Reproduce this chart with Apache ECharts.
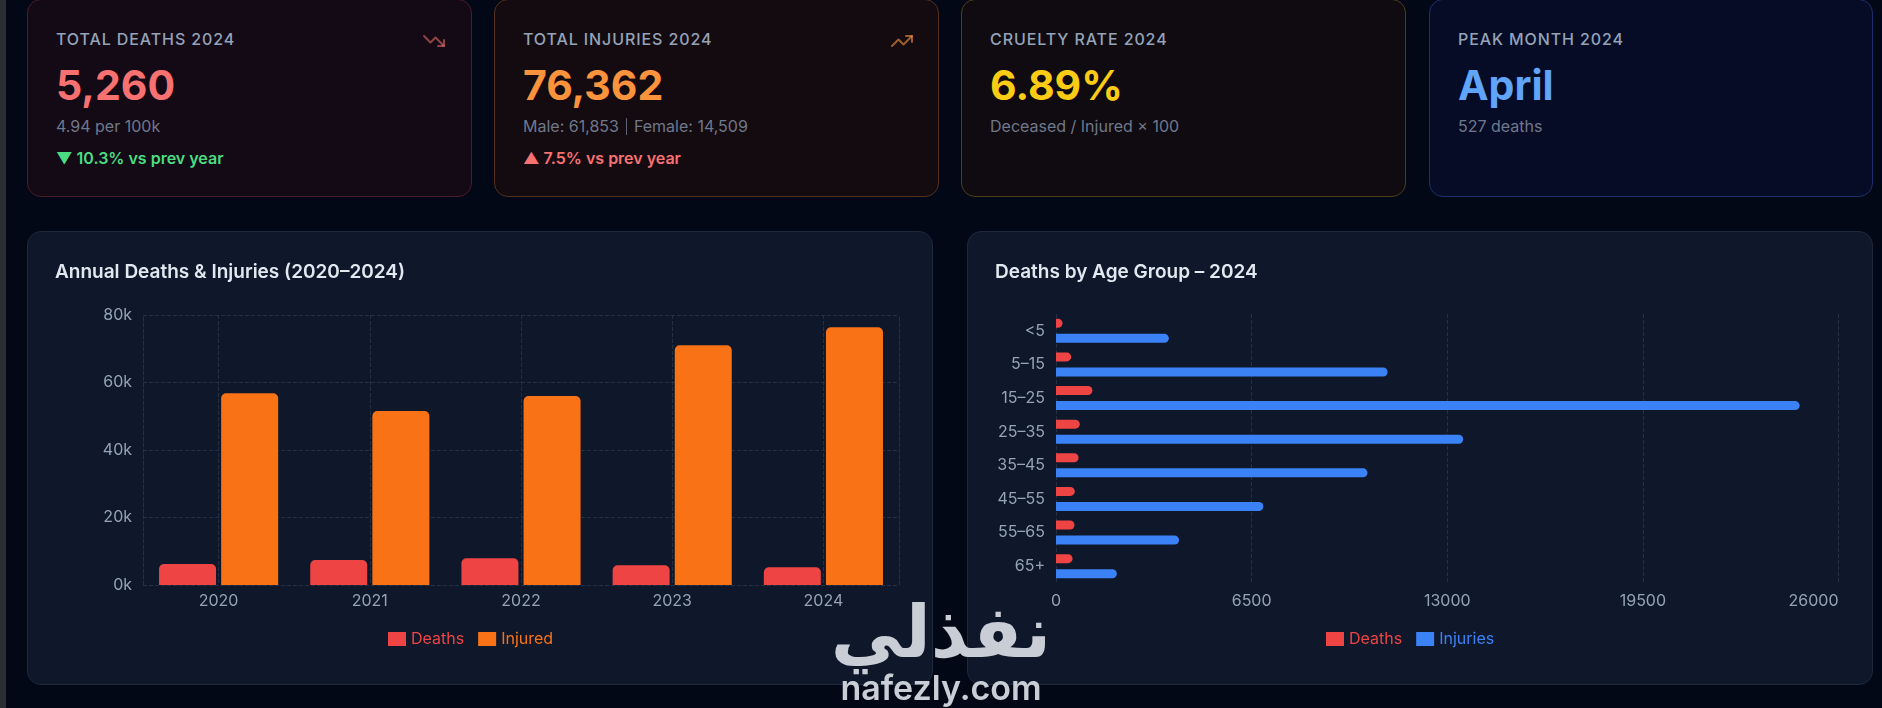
<!DOCTYPE html>
<html>
<head>
<meta charset="utf-8">
<script src="https://cdn.jsdelivr.net/npm/echarts@6/dist/echarts.min.js"></script>
<style>
html,body{margin:0;padding:0;width:1882px;height:708px;overflow:hidden;background:#030816;font-family:Inter,"Noto Sans",sans-serif;}
.strip{position:absolute;left:0;top:0;width:6px;height:708px;background:#2c2e33;}
.card{position:absolute;top:-1px;height:198px;border-radius:14px;box-sizing:border-box;border:1px solid;}
.lbl{position:absolute;left:28px;top:30px;font-size:16px;line-height:19px;letter-spacing:0.9px;color:#94a3b8;font-weight:500;white-space:nowrap;}
.big{position:absolute;left:28px;top:65px;font-size:41px;line-height:41px;font-weight:700;white-space:nowrap;}
.sub{position:absolute;left:28px;top:117px;font-size:16px;line-height:19px;color:#6f788b;white-space:nowrap;}
.sep{display:inline-block;width:1px;height:17px;background:#5b6477;vertical-align:-3px;margin:0 7px;}
.chg{position:absolute;left:28px;top:149px;font-size:16px;line-height:19px;font-weight:600;white-space:nowrap;}
.icon{position:absolute;top:29px;width:24px;height:24px;}
.panel{position:absolute;top:231px;width:906px;height:454px;border-radius:14px;background:#0f172a;border:1px solid #1e293b;box-sizing:border-box;}
.chart{position:absolute;top:231px;width:906px;height:454px;}
.wm1{position:absolute;left:790px;top:590px;width:302px;text-align:center;font-family:"DejaVu Sans";font-weight:bold;font-size:72px;line-height:84px;color:#c9cdd5;direction:rtl;}
.wm2{position:absolute;left:810px;top:668px;width:262px;text-align:center;font-family:Inter;font-weight:600;font-size:34px;line-height:40px;color:#c9cdd5;}
</style>
</head>
<body>
<div class="strip"></div>

<div class="card" style="left:27px;width:445px;background:#130a15;border-color:#4b1c2c;">
  <div class="lbl">TOTAL DEATHS 2024</div>
  <svg class="icon" style="left:394px" viewBox="0 0 24 24" fill="none" stroke="#f87171" stroke-opacity="0.55" stroke-width="2" stroke-linecap="round" stroke-linejoin="round"><polyline points="22 17 13.5 8.5 8.5 13.5 2 7"/><polyline points="16 17 22 17 22 11"/></svg>
  <div class="big" style="color:#f87171">5,260</div>
  <div class="sub">4.94 per 100k</div>
  <div class="chg" style="color:#4ade80">▼ 10.3% vs prev year</div>
</div>

<div class="card" style="left:494px;width:445px;background:#140b10;border-color:#55301a;">
  <div class="lbl">TOTAL INJURIES 2024</div>
  <svg class="icon" style="left:395px" viewBox="0 0 24 24" fill="none" stroke="#fb923c" stroke-opacity="0.6" stroke-width="2" stroke-linecap="round" stroke-linejoin="round"><polyline points="22 7 13.5 15.5 8.5 10.5 2 17"/><polyline points="16 7 22 7 22 13"/></svg>
  <div class="big" style="color:#fb923c">76,362</div>
  <div class="sub">Male: 61,853<span class="sep"></span>Female: 14,509</div>
  <div class="chg" style="color:#f87171">▲ 7.5% vs prev year</div>
</div>

<div class="card" style="left:961px;width:445px;background:#100b10;border-color:#4a3f1c;">
  <div class="lbl">CRUELTY RATE 2024</div>
  <div class="big" style="color:#facc15">6.89%</div>
  <div class="sub">Deceased / Injured × 100</div>
</div>

<div class="card" style="left:1429px;width:444px;background:#060c26;border-color:#1d2f6b;">
  <div class="lbl">PEAK MONTH 2024</div>
  <div class="big" style="color:#60a5fa">April</div>
  <div class="sub">527 deaths</div>
</div>

<div class="panel" style="left:27px"></div>
<div class="panel" style="left:967px"></div>
<div id="c1" class="chart" style="left:27px"></div>
<div id="c2" class="chart" style="left:967px"></div>

<div class="wm1">نفذلي</div>
<div class="wm2">nafezly.com</div>

<script>
// ---- data ----
const years = ['2020', '2021', '2022', '2023', '2024'];
const deathsByYear = [6220, 7400, 7900, 5860, 5260];
const injuredByYear = [56800, 51550, 56000, 71030, 76362];
const annualTicks = [0, 20000, 40000, 60000, 80000];
const annualTickLabels = ['0k', '20k', '40k', '60k', '80k'];

const ageGroups = ['<5', '5–15', '15–25', '25–35', '35–45', '45–55', '55–65', '65+'];
const deathsByAge = [215, 505, 1210, 790, 750, 625, 615, 550];
const injuriesByAge = [3750, 11020, 24710, 13530, 10350, 6890, 4090, 2022];
const ageTicks = [0, 6500, 13000, 19500, 26000];
const ageTickLabels = ['0', '6500', '13000', '19500', '26000'];

// ---- styles ----
const FONT = 'Inter';
const AXIS_TXT = '#94a3b8';
const GRID_LINE = '#243044';
const RED = '#ef4444', ORANGE = '#f97316', BLUE = '#3b82f6';
const AXIS_FS = 16;

const titleStyle = { color: '#e2e8f0', fontSize: 19, fontWeight: 600, fontFamily: FONT };

const c1 = echarts.init(document.getElementById('c1'), null, { renderer: 'canvas' });
c1.setOption({
  animation: false,
  backgroundColor: 'transparent',
  title: { text: 'Annual Deaths & Injuries (2020–2024)', left: 28, top: 32, padding: 0, textStyle: titleStyle },
  legend: {
    left: 361, top: 400, padding: 0, itemWidth: 18, itemHeight: 14, itemGap: 14, icon: 'rect',
    textStyle: { fontSize: AXIS_FS, fontFamily: FONT },
    data: [
      { name: 'Deaths', textStyle: { color: RED } },
      { name: 'Injured', textStyle: { color: ORANGE } }
    ]
  },
  grid: { left: 116, right: 34, top: 84, bottom: 100, outerBoundsMode: 'none' },
  xAxis: {
    type: 'category', data: years,
    axisLine: { show: false }, axisTick: { show: false },
    axisLabel: { color: AXIS_TXT, fontSize: AXIS_FS, fontFamily: FONT, margin: 8 },
    splitLine: { show: true, alignWithLabel: true, lineStyle: { color: GRID_LINE, type: 'dashed' } }
  },
  yAxis: [
    {
      type: 'value', min: annualTicks[0], max: annualTicks[annualTicks.length - 1],
      interval: annualTicks[1] - annualTicks[0],
      axisLine: { show: true, lineStyle: { color: GRID_LINE, type: 'dashed' } },
      axisTick: { show: false },
      axisLabel: {
        color: AXIS_TXT, fontSize: AXIS_FS, fontFamily: FONT, margin: 11,
        formatter: v => annualTickLabels[annualTicks.indexOf(v)]
      },
      splitLine: { show: true, lineStyle: { color: GRID_LINE, type: 'dashed' } }
    },
    {
      type: 'value', position: 'right', min: annualTicks[0], max: annualTicks[annualTicks.length - 1],
      interval: annualTicks[1] - annualTicks[0],
      axisLine: { show: true, lineStyle: { color: GRID_LINE, type: 'dashed' } },
      axisTick: { show: false }, axisLabel: { show: false }, splitLine: { show: false }
    }
  ],
  series: [
    { name: 'Deaths', type: 'bar', data: deathsByYear, barWidth: 57, barGap: '9%',
      itemStyle: { color: RED, borderRadius: [5, 5, 0, 0] } },
    { name: 'Injured', type: 'bar', data: injuredByYear, barWidth: 57, barGap: '9%',
      itemStyle: { color: ORANGE, borderRadius: [5, 5, 0, 0] } }
  ]
});

const c2 = echarts.init(document.getElementById('c2'), null, { renderer: 'canvas' });
c2.setOption({
  animation: false,
  backgroundColor: 'transparent',
  title: { text: 'Deaths by Age Group – 2024', left: 28, top: 32, padding: 0, textStyle: titleStyle },
  legend: {
    left: 359, top: 400, padding: 0, itemWidth: 18, itemHeight: 14, itemGap: 14, icon: 'rect',
    textStyle: { fontSize: AXIS_FS, fontFamily: FONT },
    data: [
      { name: 'Deaths', textStyle: { color: RED } },
      { name: 'Injuries', textStyle: { color: BLUE } }
    ]
  },
  grid: { left: 89, right: 34.5, top: 83, bottom: 102, outerBoundsMode: 'none' },
  xAxis: {
    type: 'value', min: ageTicks[0], max: ageTicks[ageTicks.length - 1],
    interval: ageTicks[1] - ageTicks[0],
    axisLine: { show: false }, axisTick: { show: false },
    axisLabel: {
      color: AXIS_TXT, fontSize: AXIS_FS, fontFamily: FONT, margin: 10, alignMaxLabel: 'right',
      formatter: v => ageTickLabels[ageTicks.indexOf(v)]
    },
    splitLine: { show: true, lineStyle: { color: GRID_LINE, type: 'dashed' } }
  },
  yAxis: {
    type: 'category', data: ageGroups, inverse: true,
    axisLine: { show: false }, axisTick: { show: false },
    axisLabel: { color: AXIS_TXT, fontSize: AXIS_FS, fontFamily: FONT, margin: 11 },
    splitLine: { show: false }
  },
  series: [
    { name: 'Deaths', type: 'bar', data: deathsByAge, barWidth: 9, barGap: '67%',
      itemStyle: { color: RED, borderRadius: [0, 5, 5, 0] } },
    { name: 'Injuries', type: 'bar', data: injuriesByAge, barWidth: 9, barGap: '67%',
      itemStyle: { color: BLUE, borderRadius: [0, 5, 5, 0] } }
  ]
});
</script>
</body>
</html>
